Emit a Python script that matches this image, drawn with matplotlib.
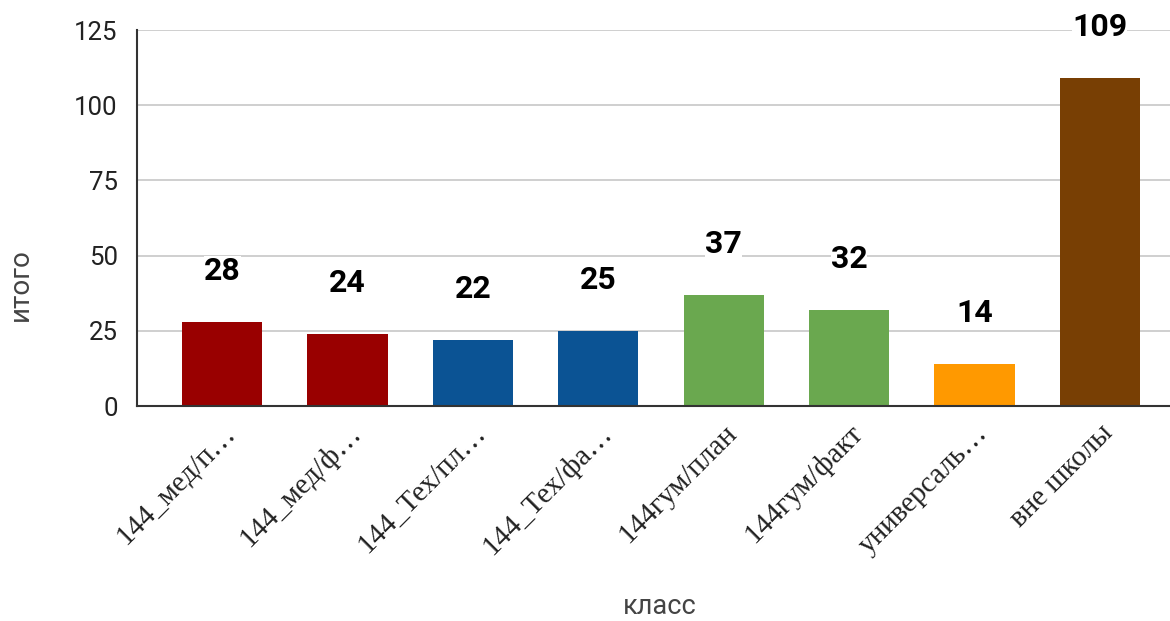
import matplotlib
matplotlib.use("Agg")
import matplotlib.pyplot as plt

categories = ["144_мед/п…", "144_мед/ф…", "144_Тех/пл…", "144_Тех/фа…",
              "144гум/план", "144гум/факт", "универсаль…", "вне школы"]
values = [28, 24, 22, 25, 37, 32, 14, 109]
colors = ["#990000", "#990000", "#0b5394", "#0b5394",
          "#6aa84f", "#6aa84f", "#ff9900", "#783f04"]
yticks = [0, 25, 50, 75, 100, 125]

fig = plt.figure(figsize=(11.7, 6.21), dpi=100)
ax = fig.add_axes([137/1170, 1 - 406/621, (1170-137)/1170, (406-30)/621])

x = list(range(len(categories)))
ax.bar(x, values, width=0.64, color=colors, zorder=3)
for xi, v in zip(x, values):
    ax.text(xi, v + 17, str(v), ha="center", va="center",
            fontsize=23, fontweight="bold", family="Roboto", color="#000000",
            zorder=5,
            bbox=dict(facecolor="white", edgecolor="none", pad=0))

ax.set_xlim(-0.68, 7.56)
ax.set_ylim(0, 125)
ax.set_yticks(yticks)
ax.set_yticklabels([str(t) for t in yticks], family="Roboto", fontsize=18.5, color="#222222")
ax.yaxis.grid(True, color="#cccccc", linewidth=1.3, zorder=0)
ax.tick_params(axis="y", length=0, pad=14)
ax.tick_params(axis="x", length=0, pad=10)
ax.set_xticks(x)
ax.set_xticklabels(categories, rotation=45, ha="right", va="top",
                   rotation_mode="anchor", family="Liberation Serif",
                   fontsize=21, color="#222222")

for s in ["top", "right"]:
    ax.spines[s].set_visible(False)
ax.spines["left"].set_color("#333333")
ax.spines["bottom"].set_color("#333333")
ax.spines["left"].set_linewidth(1.5)
ax.spines["bottom"].set_linewidth(1.5)
ax.spines["left"].set_zorder(4)
ax.spines["bottom"].set_zorder(4)

fig.text(20/1170, 1 - 285/621, "итого", rotation=90, ha="center", va="center",
         family="Roboto", fontsize=20, color="#444444")
fig.text(660/1170, 1 - 606/621, "класс", ha="center", va="center",
         family="Roboto", fontsize=19.5, color="#444444")

fig.savefig("out.png", dpi=100)
